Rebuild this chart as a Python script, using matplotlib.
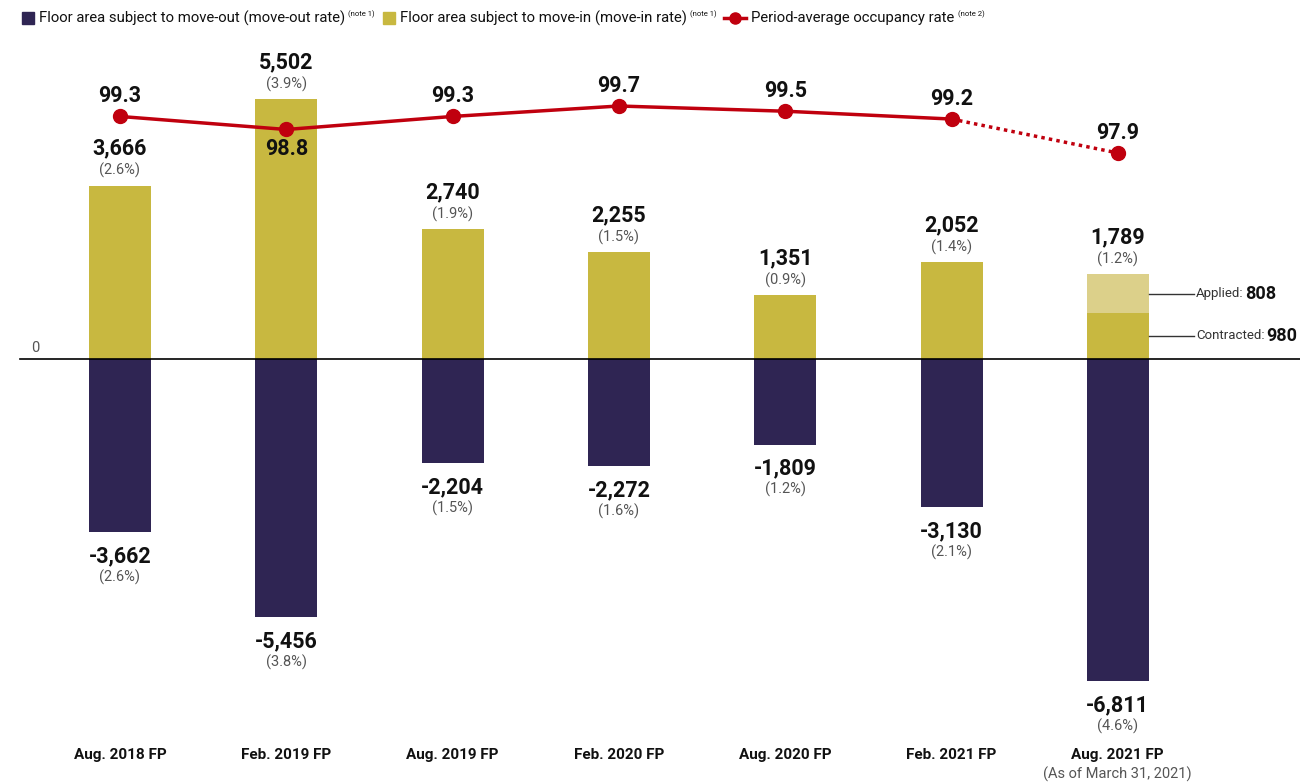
import matplotlib
matplotlib.use("Agg")
import matplotlib.pyplot as plt
from matplotlib.patches import Rectangle
from matplotlib.lines import Line2D

# ---- data ----
periods = ["Aug. 2018 FP", "Feb. 2019 FP", "Aug. 2019 FP", "Feb. 2020 FP",
           "Aug. 2020 FP", "Feb. 2021 FP", "Aug. 2021 FP"]
move_in = [3666, 5502, 2740, 2255, 1351, 2052, 980]      # last period: contracted part
move_in_applied = [0, 0, 0, 0, 0, 0, 808]                 # last period: applied part
move_in_total = [3666, 5502, 2740, 2255, 1351, 2052, 1789]
move_in_rate = ["2.6%", "3.9%", "1.9%", "1.5%", "0.9%", "1.4%", "1.2%"]
move_out = [-3662, -5456, -2204, -2272, -1809, -3130, -6811]
move_out_rate = ["2.6%", "3.8%", "1.5%", "1.6%", "1.2%", "2.1%", "4.6%"]
occupancy = [99.3, 98.8, 99.3, 99.7, 99.5, 99.2, 97.9]

C_IN = "#C8B840"
C_APPLIED = "#DCD08A"
C_OUT = "#2F2553"
C_RED = "#C0000E"
C_TXT = "#111111"
C_GRAY = "#555555"

plt.rcParams["font.family"] = ["Roboto", "DejaVu Sans"]

W, H = 1300, 783
fig = plt.figure(figsize=(W / 100, H / 100), dpi=100)
ax = fig.add_axes([0, 0, 1, 1])
ax.set_axis_off()

# pixel mapping: category i centered at 120 + 166.3*i, zero at y=359
dx = 166.3
x0 = 120
ax.set_xlim(-x0 / dx, (W - x0) / dx)
upp = 1 / 0.04728  # units per pixel
ax.set_ylim(-(H - 359) * upp, 359 * upp)

bw = 62 / dx
xs = list(range(len(periods)))

ax.bar(xs, move_in, width=bw, color=C_IN, zorder=2)
ax.bar(xs, move_in_applied, width=bw, bottom=move_in, color=C_APPLIED, zorder=2)
ax.bar(xs, move_out, width=bw, color=C_OUT, zorder=2)

# zero line
ax.plot([(20 - x0) / dx, (W - x0) / dx], [0, 0], color="black", lw=1.2, zorder=3)
ax.text((35 - x0) / dx, 4 * upp, "0", ha="center", va="bottom", fontsize=10.5, color=C_GRAY)

# value labels
for i in xs:
    top = move_in_total[i]
    ax.annotate(f"{top:,}", (i, top), xytext=(0, 37), textcoords="offset pixels",
                ha="center", va="center", fontsize=15.5, fontweight="bold", color=C_TXT)
    ax.annotate(f"({move_in_rate[i]})", (i, top), xytext=(0, 15), textcoords="offset pixels",
                ha="center", va="center", fontsize=10.5, color=C_GRAY)
    bot = move_out[i]
    ax.annotate(f"{bot:,}", (i, bot), xytext=(0, -24), textcoords="offset pixels",
                ha="center", va="center", fontsize=15.5, fontweight="bold", color=C_TXT)
    ax.annotate(f"({move_out_rate[i]})", (i, bot), xytext=(0, -45), textcoords="offset pixels",
                ha="center", va="center", fontsize=10.5, color=C_GRAY)

# category labels
for i, p in enumerate(periods):
    ax.text(i, -(755 - 359) * upp, p, ha="center", va="center", fontsize=11,
            fontweight="bold", color=C_TXT)
ax.text(6, -(774 - 359) * upp, "(As of March 31, 2021)", ha="center", va="center",
        fontsize=10.5, color=C_GRAY)

# applied / contracted callouts
last = 6
xr = last + bw / 2
xe = xr + 45 / dx
y_app = move_in[last] + move_in_applied[last] / 2
y_con = move_in[last] / 2
for yv, lab, val in [(y_app, "Applied:", move_in_applied[last]),
                     (y_con, "Contracted:", move_in[last])]:
    ax.plot([xr, xe], [yv, yv], color="#333333", lw=1, zorder=3)
    t = ax.annotate(lab, (xe, yv), xytext=(2, 0), textcoords="offset pixels",
                    ha="left", va="center", fontsize=9.5, color="#333333")
    fig.canvas.draw()
    bb = t.get_window_extent()
    ax.annotate(f"{val}", (xe, yv), xytext=(2 + bb.width + 2, 0), textcoords="offset pixels",
                ha="left", va="center", fontsize=13, fontweight="bold", color=C_TXT)

# occupancy rate on a twin axis
ax2 = ax.twinx()
ax2.set_axis_off()
ppp = 26.1  # pixels per point
ax2.set_ylim(99.7 - (H - 106) / ppp, 99.7 + 106 / ppp)
ax2.plot(xs[:6], occupancy[:6], color=C_RED, lw=2.5, zorder=4)
ax2.plot(xs[5:], occupancy[5:], color=C_RED, lw=2.5, ls=(0, (1, 1.2)), zorder=4)
ax2.plot(xs, occupancy, ls="none", marker="o", ms=10, color=C_RED, zorder=5)
for i, v in enumerate(occupancy):
    off = -20 if i == 1 else 20
    ax2.annotate(f"{v:.1f}", (i, v), xytext=(0, off), textcoords="offset pixels",
                 ha="center", va="center", fontsize=15.5, fontweight="bold", color=C_TXT)

# legend row
fig.canvas.draw()
r = fig.canvas.get_renderer()
ly = 1 - 18 / H
xpos = 22
entries = [("sq", C_OUT, "Floor area subject to move-out (move-out rate)"),
           ("sq", C_IN, "Floor area subject to move-in (move-in rate)"),
           ("ln", C_RED, "Period-average occupancy rate")]
notes = ["(note 1)", "(note 1)", "(note 2)"]
for (kind, col, lab), note in zip(entries, notes):
    if kind == "sq":
        fig.patches.append(Rectangle((xpos / W, ly - 6 / H), 12 / W, 12 / H,
                                     transform=fig.transFigure, color=col))
        xpos += 17
    else:
        fig.lines.append(Line2D([xpos / W, (xpos + 22) / W], [ly, ly],
                                transform=fig.transFigure, color=col, lw=2.5))
        fig.lines.append(Line2D([(xpos + 11) / W], [ly], transform=fig.transFigure,
                                color=col, marker="o", ms=8))
        xpos += 27
    t = fig.text(xpos / W, ly, lab, ha="left", va="center", fontsize=10.7, color=C_TXT)
    xpos += t.get_window_extent(r).width + 3
    t2 = fig.text(xpos / W, ly + 4 / H, note, ha="left", va="center", fontsize=5.5, color=C_TXT)
    xpos += t2.get_window_extent(r).width + 8

fig.savefig("out.png", dpi=100)
